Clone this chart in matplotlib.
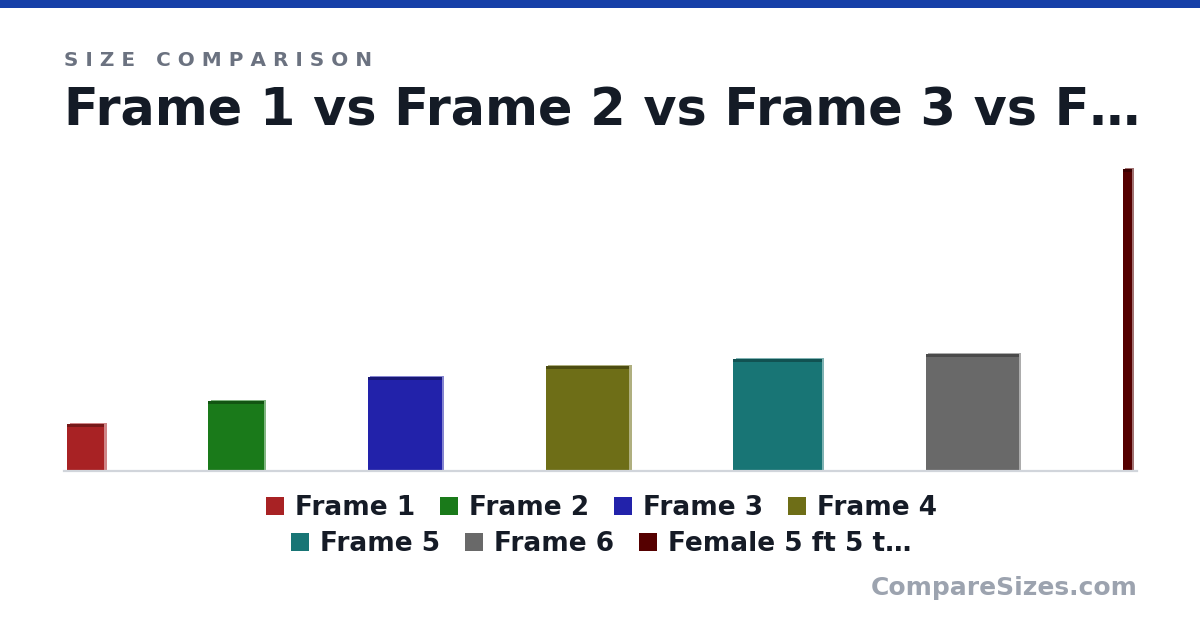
import matplotlib
matplotlib.use('Agg')
import matplotlib.pyplot as plt
from matplotlib.patches import Patch, Rectangle
import numpy as np

plt.rcParams['font.family'] = ['DejaVu Sans']

# sizes in inches (width x height)
names   = ['Frame 1', 'Frame 2', 'Frame 3', 'Frame 4', 'Frame 5', 'Frame 6', 'Female 5 ft 5 t…']
widths  = [8, 12, 16, 18, 19.2, 20, 1.95]
heights = [10, 15, 20.2, 22.6, 24.1, 25.2, 65]
colors  = ['#A82224', '#1A7A1A', '#2222AA', '#6E6E17', '#187575', '#696969', '#550000']
tops    = ['#761818', '#125512', '#181877', '#4D4D10', '#115252', '#4A4A4A', '#3B0000']

title    = 'Frame 1 vs Frame 2 vs Frame 3 vs F…'
subtitle = 'S I Z E   C O M P A R I S O N'
brand    = 'CompareSizes.com'

W, H = 1200, 630
fig = plt.figure(figsize=(12, 6.3), dpi=100)
fig.patch.set_facecolor('white')

# top accent band
fig.add_artist(Rectangle((0, 1 - 8 / H), 1, 8 / H, transform=fig.transFigure,
                         color='#1640A8', lw=0))

fig.text(64 / W, 1 - 66.5 / H, subtitle, fontsize=14.4, fontweight='bold',
         color='#6B7280', ha='left', va='baseline')
fig.text(63.5 / W, 1 - 126 / H, title, fontsize=36.6, fontweight='bold',
         color='#141B26', ha='left', va='baseline')

# plot area
ax_left, ax_right = 64, 1137
base_y, top_y = 470.5, 169.5
ax = fig.add_axes([ax_left / W, 1 - base_y / H, (ax_right - ax_left) / W, (base_y - top_y) / H])

px = (base_y - top_y) / max(heights)      # pixels per inch
gap = 104 / px
pad = 3 / px
lefts = pad + np.concatenate([[0], np.cumsum(widths[:-1])]) + gap * np.arange(len(widths))

band = 3 / px
dx, dy = 2.5 / px, 1 / px
for l, w, h, c, tc in zip(lefts, widths, heights, colors, tops):
    ax.bar(l + dx, h, width=w, bottom=dy, align='edge', color=c, alpha=0.55, lw=0,
           zorder=1, clip_on=False)
    ax.bar(l, h, width=w, align='edge', color=c, lw=0, zorder=2, clip_on=False)
    ax.bar(l, band, width=w, bottom=h - band, align='edge', color=tc, lw=0, zorder=3,
           clip_on=False)

ax.set_xlim(0, (ax_right - ax_left) / px)
ax.set_ylim(0, max(heights))
for s in ['top', 'right', 'left']:
    ax.spines[s].set_visible(False)
ax.spines['bottom'].set_color('#D1D5DB')
ax.spines['bottom'].set_linewidth(1.6)
ax.spines['bottom'].set_zorder(4)
ax.set_xticks([])
ax.set_yticks([])
ax.patch.set_alpha(0)

# legend in two centred rows
rows = [range(0, 4), range(4, 7)]
row_y = [508, 544]
for r, yy in zip(rows, row_y):
    handles = [Patch(facecolor=colors[i], edgecolor='none', label=names[i]) for i in r]
    leg = fig.legend(handles=handles, loc='center', bbox_to_anchor=(601.5 / W, 1 - yy / H),
                     ncol=len(handles), frameon=False, prop={'size': 19, 'weight': 'bold'},
                     labelcolor='#151B26', handlelength=0.68, handleheight=0.68,
                     handletextpad=0.42, columnspacing=0.95, borderpad=0, borderaxespad=0)

fig.text(1138 / W, 1 - 588.5 / H, brand, fontsize=18, fontweight='bold',
         color='#9CA3AF', ha='right', va='center')

plt.savefig('out.png', dpi=100)
